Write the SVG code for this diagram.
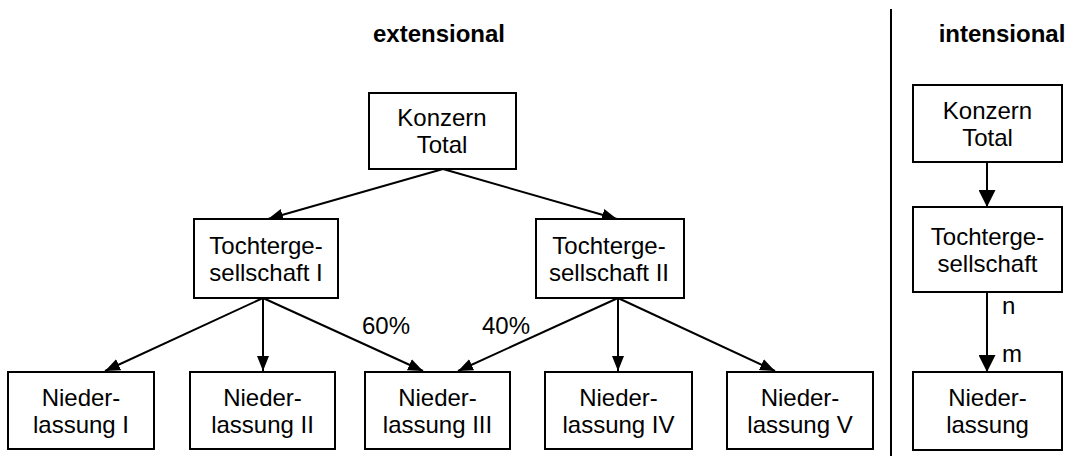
<svg xmlns="http://www.w3.org/2000/svg" width="1072" height="457" viewBox="0 0 1072 457">
  <style>
    .box { fill: #ffffff; stroke: #000000; stroke-width: 2; }
    .lbl { font-family: "Liberation Sans", Arial, sans-serif; font-size: 24px; fill: #000000; text-anchor: middle; }
    .note { font-family: "Liberation Sans", Arial, sans-serif; font-size: 24px; fill: #000000; }
    .head { font-family: "Liberation Sans", Arial, sans-serif; font-size: 24px; font-weight: bold; fill: #000000; text-anchor: middle; }
    .edge { stroke: #000000; stroke-width: 2; fill: none; marker-end: url(#arrow); }
    .edge-big { stroke: #000000; stroke-width: 2; fill: none; marker-end: url(#arrow-big); }
  </style>
  <defs>
    <marker id="arrow" markerUnits="userSpaceOnUse" markerWidth="16" markerHeight="13" refX="15" refY="6.5" orient="auto">
      <path d="M0,0.5 L15,6.5 L0,12.5 z" fill="#000000"/>
    </marker>
    <marker id="arrow-big" markerUnits="userSpaceOnUse" markerWidth="18" markerHeight="17" refX="17" refY="8.5" orient="auto">
      <path d="M0,0 L17,8.5 L0,17 z" fill="#000000"/>
    </marker>
  </defs>
  <rect width="1072" height="457" fill="#ffffff"/>

  <!-- headings and divider -->
  <text class="head" x="439" y="42">extensional</text>
  <text class="head" x="1002" y="42">intensional</text>
  <line x1="891" y1="9" x2="891" y2="456" stroke="#000000" stroke-width="2"/>

  <!-- connectors -->
  <g id="connectors">
    <line class="edge" x1="443" y1="169" x2="268" y2="219"/>
    <line class="edge" x1="443" y1="169" x2="617" y2="219"/>
    <line class="edge" x1="263" y1="298" x2="105" y2="371"/>
    <line class="edge" x1="263" y1="298" x2="263" y2="371"/>
    <line class="edge" x1="263" y1="298" x2="423" y2="371"/>
    <line class="edge" x1="618" y1="298" x2="458" y2="371"/>
    <line class="edge" x1="618" y1="298" x2="618" y2="371"/>
    <line class="edge" x1="618" y1="298" x2="775" y2="371"/>
    <line class="edge-big" x1="987" y1="163" x2="987" y2="207"/>
    <line class="edge-big" x1="987" y1="292" x2="987" y2="372"/>
    <text class="note" x="362" y="334">60%</text>
    <text class="note" x="482" y="334">40%</text>
    <text class="note" x="1002" y="314">n</text>
    <text class="note" x="1002" y="362">m</text>
  </g>

  <!-- extensional tree -->
  <g id="konzern">
    <rect class="box" x="369" y="93" width="147" height="76"/>
    <text class="lbl" x="442" y="126">Konzern</text>
    <text class="lbl" x="442" y="153">Total</text>
  </g>
  <g id="tochter1">
    <rect class="box" x="194" y="219" width="144" height="79"/>
    <text class="lbl" x="266" y="254">Tochterge-</text>
    <text class="lbl" x="266" y="281">sellschaft I</text>
  </g>
  <g id="tochter2">
    <rect class="box" x="536" y="219" width="148" height="79"/>
    <text class="lbl" x="609" y="254">Tochterge-</text>
    <text class="lbl" x="609" y="281">sellschaft II</text>
  </g>
  <g id="nl1">
    <rect class="box" x="8" y="372" width="146" height="77"/>
    <text class="lbl" x="81" y="406">Nieder-</text>
    <text class="lbl" x="81" y="433">lassung I</text>
  </g>
  <g id="nl2">
    <rect class="box" x="190" y="372" width="145" height="77"/>
    <text class="lbl" x="262.5" y="406">Nieder-</text>
    <text class="lbl" x="262.5" y="433">lassung II</text>
  </g>
  <g id="nl3">
    <rect class="box" x="365" y="372" width="145" height="77"/>
    <text class="lbl" x="437.5" y="406">Nieder-</text>
    <text class="lbl" x="437.5" y="433">lassung III</text>
  </g>
  <g id="nl4">
    <rect class="box" x="545" y="372" width="147" height="77"/>
    <text class="lbl" x="618.5" y="406">Nieder-</text>
    <text class="lbl" x="618.5" y="433">lassung IV</text>
  </g>
  <g id="nl5">
    <rect class="box" x="727" y="372" width="146" height="77"/>
    <text class="lbl" x="800" y="406">Nieder-</text>
    <text class="lbl" x="800" y="433">lassung V</text>
  </g>

  <!-- intensional schema -->
  <g id="i-konzern">
    <rect class="box" x="913" y="85" width="149" height="77"/>
    <text class="lbl" x="987.5" y="119">Konzern</text>
    <text class="lbl" x="987.5" y="146">Total</text>
  </g>
  <g id="i-tochter">
    <rect class="box" x="913" y="207" width="149" height="85"/>
    <text class="lbl" x="987.5" y="245">Tochterge-</text>
    <text class="lbl" x="987.5" y="272">sellschaft</text>
  </g>
  <g id="i-nl">
    <rect class="box" x="913" y="372" width="149" height="78"/>
    <text class="lbl" x="987.5" y="406">Nieder-</text>
    <text class="lbl" x="987.5" y="433">lassung</text>
  </g>
</svg>
